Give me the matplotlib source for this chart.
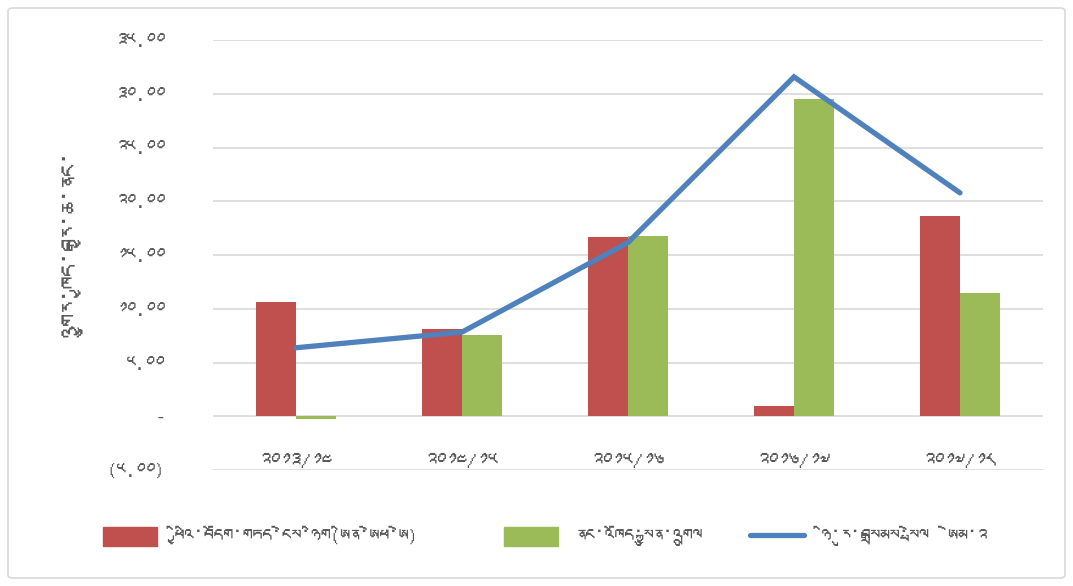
import matplotlib
matplotlib.use("Agg")
import matplotlib.pyplot as plt
from matplotlib import font_manager
from matplotlib.patches import FancyBboxPatch
from matplotlib.lines import Line2D
from matplotlib.patches import Patch
import numpy as np

# ---------------- data ----------------
categories = ["༢༠༡༣/༡༤", "༢༠༡༤/༡༥", "༢༠༡༥/༡༦", "༢༠༡༦/༡༧", "༢༠༡༧/༡༨"]
nfa_values = [10.66, 8.08, 16.68, 0.93, 18.67]
credit_values = [-0.24, 7.52, 16.81, 29.55, 11.48]
m2_values = [6.37, 7.83, 16.16, 31.57, 20.78]
y_ticks = [-5, 0, 5, 10, 15, 20, 25, 30, 35]
y_tick_labels = ["(༥.༠༠)", "-", "༥.༠༠", "༡༠.༠༠", "༡༥.༠༠", "༢༠.༠༠", "༢༥.༠༠", "༣༠.༠༠", "༣༥.༠༠"]
series_names = ["ཕྱིའི་བདོག་གཏད་ངེས་ཉིག(ཨིན་ཨེཕ་ཨེ)", "ནང་འཁོད་སྐྱུན་འགྲུལ", "ཉི་རུ་བསྒྲམས་སྤེལ  ཨེམ་༢"]
y_label = "འགྱུར་ཁྱད་བརྒྱ་ཆ་ནང་"

# ---------------- font ----------------
def find_tibetan():
    try:
        from fontTools.ttLib import TTFont
    except Exception:
        return None
    for fe in font_manager.fontManager.ttflist:
        try:
            f = TTFont(fe.fname, fontNumber=0, lazy=True)
            cmap = f.getBestCmap()
            if cmap and 0x0F40 in cmap and 0x0F22 in cmap:
                return fe.name
        except Exception:
            continue
    return None

tib = find_tibetan()
families = ([tib] if tib else []) + ["DejaVu Sans", "Noto Sans"]
plt.rcParams["font.family"] = families

text_color = "#595959"
red = "#C0504D"
green = "#9BBB59"
blue = "#4F81BD"
grid_color = "#D9D9D9"

fig = plt.figure(figsize=(10.73, 5.86), dpi=100)
ax = fig.add_axes([213 / 1073, 1 - 470 / 586, 830 / 1073, 430 / 586])

x = np.arange(len(categories))
w = 0.24
ax.bar(x - w / 2, nfa_values, width=w, color=red, zorder=2)
ax.bar(x + w / 2, credit_values, width=w, color=green, zorder=2)
ax.plot(x, m2_values, color=blue, linewidth=3.8, solid_capstyle="round",
        solid_joinstyle="miter", zorder=3)

ax.set_xlim(-0.5, len(categories) - 0.5)
ax.set_ylim(-5, 35)
ax.set_yticks(y_ticks)
ax.set_yticklabels(y_tick_labels)
ax.set_xticks(x)
ax.set_xticklabels(categories)
ax.grid(axis="y", color=grid_color, linewidth=1.2, zorder=0)
ax.set_axisbelow(True)
for s in ax.spines.values():
    s.set_visible(False)
ax.tick_params(axis="y", length=0, pad=34.5, labelsize=14, labelcolor=text_color)
ax.tick_params(axis="x", length=0, pad=-12, labelsize=15, labelcolor=text_color)

fig.text(72 / 1073, 1 - 243 / 586, y_label, rotation=90, ha="center", va="center",
         fontsize=18, color=text_color)

handles = [Patch(color=red), Patch(color=green),
           Line2D([0], [0], color=blue, linewidth=3.8, solid_capstyle="round")]
legend_x = [103, 504, 750]
for h, name, lx in zip(handles, series_names, legend_x):
    leg = fig.legend([h], [name], loc="center left",
                     bbox_to_anchor=(lx / 1073, 1 - 536 / 586),
                     frameon=False, fontsize=14, labelcolor=text_color,
                     handlelength=2.8, handleheight=1.1, handletextpad=0.9,
                     borderpad=0, borderaxespad=0)

border = FancyBboxPatch((8 / 1073, 8 / 586), 1 - 16 / 1073, 1 - 16 / 586,
                        boxstyle="round,pad=0,rounding_size=0.005",
                        transform=fig.transFigure, facecolor="none",
                        edgecolor="#D9D9D9", linewidth=1.2)
fig.patches.append(border)

fig.savefig("out.png", dpi=100)
